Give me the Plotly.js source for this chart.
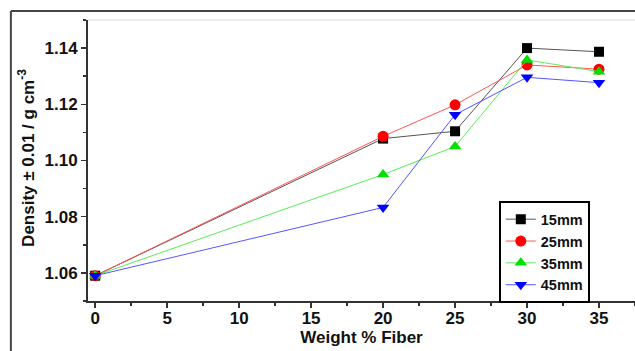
<!DOCTYPE html>
<html><head><meta charset="utf-8">
<script src="https://cdn.plot.ly/plotly-3.0.1.min.js"></script>
<style>html,body{margin:0;padding:0;background:#fff;}#chart{width:635px;height:351px;}</style>
</head><body><div id="chart"></div>
<script>
const fiber = [0, 20, 25, 30, 35];
const d15 = [1.059, 1.1078, 1.1104, 1.1400, 1.1387];
const d25 = [1.059, 1.1086, 1.1198, 1.1340, 1.1325];
const d35 = [1.059, 1.0950, 1.1050, 1.1358, 1.1316];
const d45 = [1.059, 1.0833, 1.1163, 1.1296, 1.1277];
const names = ['15mm', '25mm', '35mm', '45mm'];
const series = [d15, d25, d35, d45];
const colors = ['#000000', '#ff0000', '#00e000', '#0000ff'];
const lineColors = ['#555555', '#ff5555', '#55ee55', '#5555ff'];
const symbols = ['square', 'circle', 'triangle-up', 'triangle-down'];
const sizes = [10, 11, 11, 11];

const traces = series.map((s, i) => ({
  x: fiber, y: s, name: names[i], type: 'scatter', mode: 'lines+markers',
  line: {color: lineColors[i], width: 1},
  marker: {color: colors[i], symbol: symbols[i], size: sizes[i]}
}));

const F = 'Liberation Sans, Arial, sans-serif';
const layout = {
  width: 635, height: 351,
  margin: {l: 88, r: 0, t: 20, b: 50},
  paper_bgcolor: '#fff', plot_bgcolor: '#fff',
  font: {family: F, color: '#111'},
  showlegend: true,
  legend: {x: 0.751, y: 0.355, xanchor: 'left', yanchor: 'top',
    bordercolor: '#000', borderwidth: 2, bgcolor: '#fff',
    font: {family: F, size: 14.5, weight: 'bold', color: '#111'},
    itemwidth: 30, tracegroupgap: 0},
  xaxis: {
    range: [-0.5, 37.5], tickvals: [0,5,10,15,20,25,30,35],
    showgrid: false, zeroline: false, showline: true, linecolor: '#333', linewidth: 2,
    ticks: 'outside', ticklen: 5, tickwidth: 1.5, tickcolor: '#333',
    minor: {dtick: 2.5, tick0: 0, ticks: 'outside', ticklen: 3, tickcolor: '#333', showgrid: false},
    tickfont: {family: F, size: 17, weight: 'bold', color: '#111'},
    ticklabelstandoff: -4,
    title: {text: 'Weight % Fiber', font: {family: F, size: 17, weight: 'bold', color: '#111'}, standoff: 4}
  },
  yaxis: {
    range: [1.05, 1.15], tickvals: [1.06, 1.08, 1.10, 1.12, 1.14],
    ticktext: ['1.06', '1.08', '1.10', '1.12', '1.14'],
    showgrid: false, zeroline: false, showline: true, linecolor: '#333', linewidth: 2,
    ticks: 'outside', ticklen: 5, tickwidth: 1.5, tickcolor: '#333',
    minor: {dtick: 0.01, tick0: 1.05, ticks: 'outside', ticklen: 3, tickcolor: '#333', showgrid: false},
    tickfont: {family: F, size: 17, weight: 'bold', color: '#111'}
  },
  annotations: [
    {text: 'Density \u00b1 0.01 / g cm<sup>-3</sup>', xref: 'paper', yref: 'paper',
     x: -0.113, y: 0.51, xanchor: 'center', yanchor: 'middle', textangle: -90, showarrow: false,
     font: {family: F, size: 17, weight: 'bold', color: '#111'}}
  ],
  shapes: [
    {type: 'line', xref: 'paper', yref: 'paper', x0: -0.141, x1: 1.01, y0: 1.032, y1: 1.032, line: {color: '#444', width: 2}},
    {type: 'line', xref: 'paper', yref: 'paper', x0: -0.141, x1: -0.141, y0: 1.032, y1: -0.2, line: {color: '#444', width: 2}},
    {type: 'line', xref: 'paper', yref: 'paper', x0: 0, x1: 1, y0: 1, y1: 1, line: {color: '#ddd', width: 1}}
  ]
};
Plotly.newPlot('chart', traces, layout, {displayModeBar: false, staticPlot: true});
</script></body></html>
